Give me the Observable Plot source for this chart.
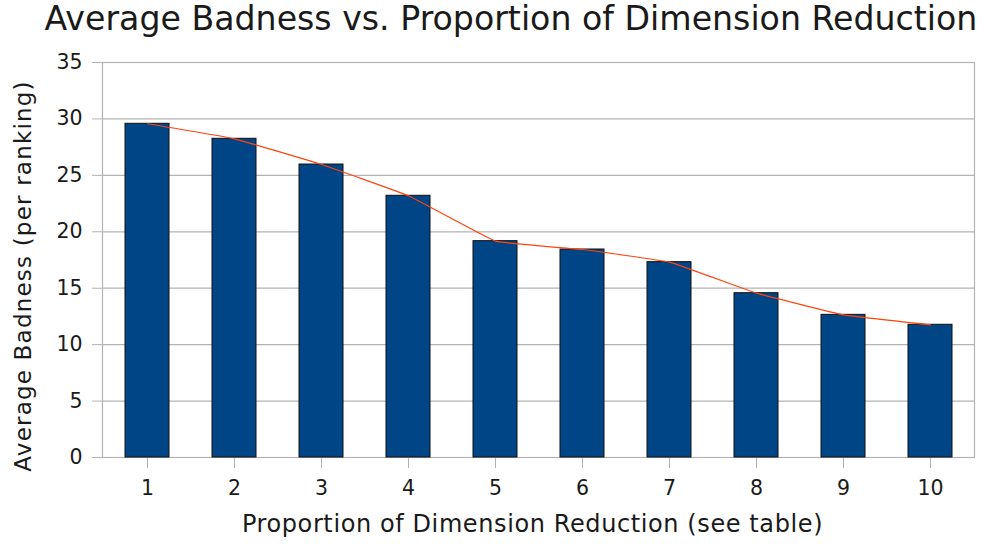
<!DOCTYPE html>
<html>
<head>
<meta charset="utf-8">
<script src="https://cdn.jsdelivr.net/npm/d3@7"></script>
<script src="https://cdn.jsdelivr.net/npm/@observablehq/plot@0.6"></script>
<style>
  html, body { margin: 0; padding: 0; background: #fff; }
  body { width: 984px; height: 546px; overflow: hidden; font-family: "DejaVu Sans", sans-serif; }
  #title { height: 40px; line-height: 38px; text-align: center; font-size: 33.2px; color: #1a1a1a; padding-left: 38px; white-space: nowrap; }
</style>
</head>
<body>
<div id="title">Average Badness vs. Proportion of Dimension Reduction</div>
<div id="chart"></div>
<script>
const categories = ["1", "2", "3", "4", "5", "6", "7", "8", "9", "10"];
const badness = [29.57, 28.24, 25.96, 23.19, 19.17, 18.43, 17.31, 14.56, 12.64, 11.76];
const yTicks = [0, 5, 10, 15, 20, 25, 30, 35];

const data = categories.map((c, i) => ({cat: c, value: badness[i]}));

const chart = Plot.plot({
  width: 984,
  height: 506,
  marginLeft: 102,
  marginRight: 10,
  marginTop: 22,
  marginBottom: 89,
  style: {fontFamily: "DejaVu Sans, sans-serif", fontSize: "20px", color: "#1a1a1a", background: "#fff", overflow: "visible"},
  x: {domain: categories, paddingInner: 0.5, paddingOuter: 0.25, label: null},
  y: {domain: [0, 35], label: null},
  marks: [
    Plot.gridY(yTicks, {stroke: "#b3b3b3", strokeOpacity: 1, strokeWidth: 1.2}),
    Plot.frame({stroke: "#b3b3b3", strokeWidth: 1.2}),
    Plot.axisY(yTicks, {tickSize: 10, tickPadding: 10, stroke: "#b3b3b3", fill: "#1a1a1a", fontSize: 20.5, label: null}),
    Plot.axisX({tickSize: 11, tickPadding: 12, stroke: "#b3b3b3", fill: "#1a1a1a", fontSize: 20.5, label: null}),
    Plot.barY(data, {x: "cat", y: "value", fill: "#004586", stroke: "#111", strokeWidth: 1}),
    Plot.line(data, {x: "cat", y: "value", stroke: "#ff420e", strokeWidth: 1.2, curve: "cardinal", tension: 0.75}),
    Plot.text(["Average Badness (per ranking)"], {frameAnchor: "left", dx: -79, dy: 16, rotate: -90, textAnchor: "middle", fontSize: 23, fill: "#1a1a1a", style: "letter-spacing: 1.2px"}),
    Plot.text(["Proportion of Dimension Reduction (see table)"], {frameAnchor: "bottom", dy: 74, dx: -6, textAnchor: "middle", fontSize: 24, fill: "#1a1a1a"})
  ]
});
chart.querySelectorAll("text").forEach(t => {
  if (t.textContent.startsWith("Average Badness")) t.style.letterSpacing = "1.2px";
  if (t.textContent.startsWith("Proportion of")) t.style.letterSpacing = "0.6px";
});
document.getElementById("chart").appendChild(chart);
</script>
</body>
</html>
